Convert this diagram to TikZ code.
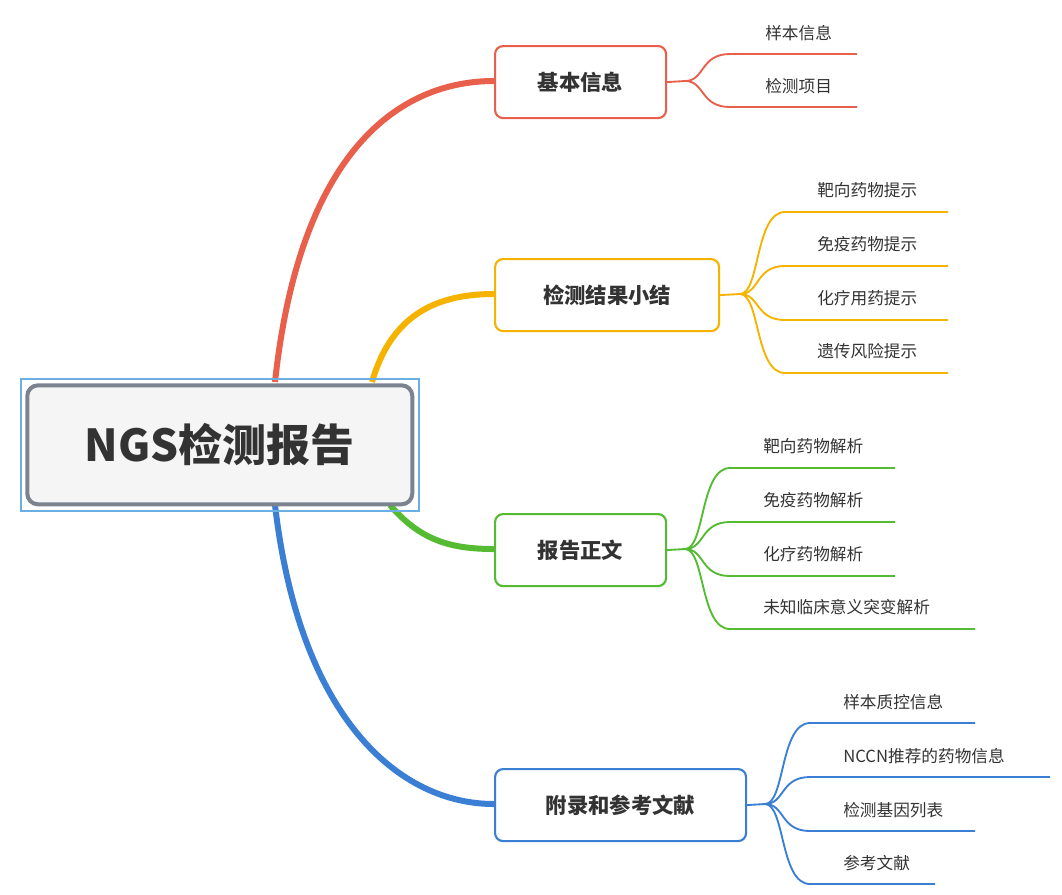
\documentclass[tikz,border=0pt]{standalone}
\usepackage{fontspec}
\setmainfont{Noto Sans CJK SC}
\definecolor{cred}{HTML}{E8604C}
\definecolor{corange}{HTML}{F5B300}
\definecolor{cgreen}{HTML}{55BB33}
\definecolor{cblue}{HTML}{3B7FD4}
\definecolor{cgray}{HTML}{7B8290}
\definecolor{ctext}{HTML}{333333}
\tikzset{
 branch/.style={draw=#1, line width=1.6pt, rounded corners=6pt, fill=white, text=ctext, font=\fontsize{16}{18}\selectfont\bfseries, anchor=north west, inner sep=0pt},
 mainc/.style={draw=#1, line width=4.5pt},
 leafc/.style={draw=#1, line width=1.4pt},
 leaftext/.style={text=ctext, font=\fontsize{12.5}{14}\selectfont, anchor=west, inner sep=0pt},
}
\begin{document}
\begin{tikzpicture}[x=0.75pt,y=-0.75pt]
\useasboundingbox (0,0) rectangle (1062,894);
% main curves
\coordinate (r1) at (275,382);
\coordinate (r2) at (372,382);
\coordinate (r3) at (390,505);
\coordinate (r4) at (275,505);
\draw[mainc=cred] (r1) .. controls (300,150) and (400,81) .. (494,81);
\draw[mainc=corange] (r2) .. controls (390,320) and (430,294) .. (494,294);
\draw[mainc=cgreen] (r3) .. controls (420,540) and (450,549) .. (494,549);
\draw[mainc=cblue] (r4) .. controls (300,720) and (400,804) .. (494,804);
% root
\node[draw=cyan!70!blue!60, line width=1.2pt, minimum width=398*0.75pt, minimum height=132*0.75pt, anchor=north west, inner sep=0pt] (rootout) at (20,378) {};
\node[draw=cgray, fill=gray!8, line width=3pt, rounded corners=8pt, minimum width=385*0.75pt, minimum height=119*0.75pt, font=\fontsize{33}{36}\selectfont\bfseries, text=ctext] (root) at (rootout.center) {NGS检测报告};
% branches
\node[branch=cred, minimum width=171*0.75pt, minimum height=72*0.75pt] (b1) at (494,45) {基本信息};
\node[branch=corange, minimum width=224*0.75pt, minimum height=72*0.75pt] (b2) at (494,258) {检测结果小结};
\node[branch=cgreen, minimum width=171*0.75pt, minimum height=72*0.75pt] (b3) at (494,513) {报告正文};
\node[branch=cblue, minimum width=251*0.75pt, minimum height=72*0.75pt] (b4) at (494,768) {附录和参考文献};
% forks
\coordinate (f1) at (685,81);
\coordinate (f2) at (740,294);
\coordinate (f3) at (685,549);
\coordinate (f4) at (765,804);
\draw[leafc=cred] (b1.east) -- (f1);
\draw[leafc=corange] (b2.east) -- (f2);
\draw[leafc=cgreen] (b3.east) -- (f3);
\draw[leafc=cblue] (b4.east) -- (f4);
% branch 1 leaves
\foreach \y/\e/\t [count=\i] in {54/857/样本信息,107/857/检测项目}{
 \coordinate (s1\i) at (730,\y); \coordinate (e1\i) at (\e,\y);
 \draw[leafc=cred] (f1) .. controls (705,81) and (700,\y) .. (s1\i) -- (e1\i);
 \node[leaftext] (t1\i) at (765,\y-21) {\t};
}
\foreach \y/\e/\t [count=\i] in {212/948/靶向药物提示,266/948/免疫药物提示,320/948/化疗用药提示,373/948/遗传风险提示}{
 \coordinate (s2\i) at (785,\y); \coordinate (e2\i) at (\e,\y);
 \draw[leafc=corange] (f2) .. controls (760,294) and (755,\y) .. (s2\i) -- (e2\i);
 \node[leaftext] (t2\i) at (817,\y-22) {\t};
}
\foreach \y/\e/\t [count=\i] in {468/895/靶向药物解析,522/895/免疫药物解析,576/895/化疗药物解析,629/975/未知临床意义突变解析}{
 \coordinate (s3\i) at (730,\y); \coordinate (e3\i) at (\e,\y);
 \draw[leafc=cgreen] (f3) .. controls (705,549) and (700,\y) .. (s3\i) -- (e3\i);
 \node[leaftext] (t3\i) at (763,\y-22) {\t};
}
\foreach \y/\e/\t [count=\i] in {723/975/样本质控信息,777/1050/NCCN推荐的药物信息,831/975/检测基因列表,884/935/参考文献}{
 \coordinate (s4\i) at (810,\y); \coordinate (e4\i) at (\e,\y);
 \draw[leafc=cblue] (f4) .. controls (785,804) and (780,\y) .. (s4\i) -- (e4\i);
 \node[leaftext] (t4\i) at (843,\y-21) {\t};
}
\end{tikzpicture}
\end{document}
